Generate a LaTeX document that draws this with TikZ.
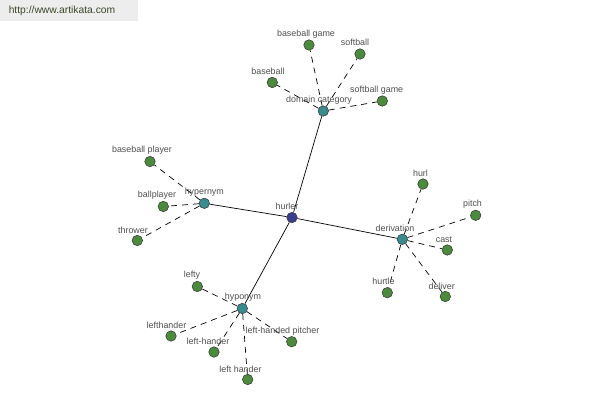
\documentclass[tikz,border=0pt]{standalone}
\usepackage{fontspec}
\setmainfont{Liberation Sans}
\definecolor{leaf}{RGB}{76,138,62}
\definecolor{hubc}{RGB}{58,138,142}
\definecolor{rootc}{RGB}{58,62,142}
\definecolor{txt}{RGB}{80,80,80}
\definecolor{wm}{RGB}{60,72,40}
\begin{document}
\begin{tikzpicture}[x=1pt,y=-1pt,
  dot/.style={circle,draw=black!80,line width=0.5pt,minimum size=10.5pt,inner sep=0pt},
  leafdot/.style={dot,fill=leaf},
  hubdot/.style={dot,fill=hubc},
  rootdot/.style={dot,fill=rootc},
  lbl/.style={font=\fontsize{8.9}{10}\selectfont,text=txt,inner sep=0pt},
  solidedge/.style={draw=black,line width=0.7pt},
  dashedge/.style={draw=black,line width=0.7pt,dash pattern=on 6pt off 5pt}]
\useasboundingbox (0,0) rectangle (600,400);
\fill[white] (0,0) rectangle (600,400);
\fill[black!7] (0,0) rectangle (138,21);
\node[font=\fontsize{10.3}{12}\selectfont,text=wm,inner sep=0pt] (wmark) at (62,11) {http://www.artikata.com};

% hubs
\node[rootdot] (hurler) at (292,217.5) {};
\node[hubdot] (dom) at (323.3,111) {};
\node[hubdot] (hyper) at (204.3,203.3) {};
\node[hubdot] (deriv) at (402.3,239.3) {};
\node[hubdot] (hypo) at (242.3,308.5) {};

% leaves
\node[leafdot] (bg) at (309,45) {};
\node[leafdot] (sb) at (360,54) {};
\node[leafdot] (bb) at (272.3,82.5) {};
\node[leafdot] (sg) at (382.3,101) {};
\node[leafdot] (bp) at (150,161.5) {};
\node[leafdot] (bpl) at (163.3,206.5) {};
\node[leafdot] (thr) at (137.3,240.5) {};
\node[leafdot] (hurl) at (423,184) {};
\node[leafdot] (pitch) at (475.7,215.3) {};
\node[leafdot] (cast) at (447.3,250) {};
\node[leafdot] (hurtle) at (387.3,292.7) {};
\node[leafdot] (deliver) at (445.3,296.5) {};
\node[leafdot] (lefty) at (197.3,286.5) {};
\node[leafdot] (lh1) at (171,336) {};
\node[leafdot] (lh2) at (214,352) {};
\node[leafdot] (lhp) at (291.7,341.7) {};
\node[leafdot] (lh3) at (247.7,379.5) {};

% edges
\draw[solidedge] (hurler) -- (dom);
\draw[solidedge] (hurler) -- (hyper);
\draw[solidedge] (hurler) -- (deriv);
\draw[solidedge] (hurler) -- (hypo);
\foreach \l in {bg,sb,bb,sg} \draw[dashedge] (dom) -- (\l);
\foreach \l in {bp,bpl,thr} \draw[dashedge] (hyper) -- (\l);
\foreach \l in {hurl,pitch,cast,hurtle,deliver} \draw[dashedge] (deriv) -- (\l);
\foreach \l in {lefty,lh1,lh2,lhp,lh3} \draw[dashedge] (hypo) -- (\l);

% labels
\node[lbl] (thurler) at (287,206) {hurler};
\node[lbl] (tdom) at (319,100) {domain category};
\node[lbl] (thyper) at (204.3,192.5) {hypernym};
\node[lbl] (tderiv) at (395,228.3) {derivation};
\node[lbl] (thypo) at (243,297) {hyponym};
\node[lbl] (tbg) at (306,34) {baseball game};
\node[lbl] (tsb) at (355,42.7) {softball};
\node[lbl] (tbb) at (268,71.7) {baseball};
\node[lbl] (tsg) at (376.7,90) {softball game};
\node[lbl] (tbp) at (142,150) {baseball player};
\node[lbl] (tbpl) at (157,195) {ballplayer};
\node[lbl] (tthr) at (133,230) {thrower};
\node[lbl] (thurl) at (420.5,173) {hurl};
\node[lbl] (tpitch) at (472.5,204) {pitch};
\node[lbl] (tcast) at (444,239.3) {cast};
\node[lbl] (thurtle) at (383.5,281.7) {hurtle};
\node[lbl] (tdeliver) at (441.7,286) {deliver};
\node[lbl] (tlefty) at (192,275) {lefty};
\node[lbl] (tlh1) at (166.5,325) {lefthander};
\node[lbl] (tlh2) at (208,341) {left-hander};
\node[lbl] (tlhp) at (282.5,331) {left-handed pitcher};
\node[lbl] (tlh3) at (240.5,369) {left hander};
\end{tikzpicture}
\end{document}
